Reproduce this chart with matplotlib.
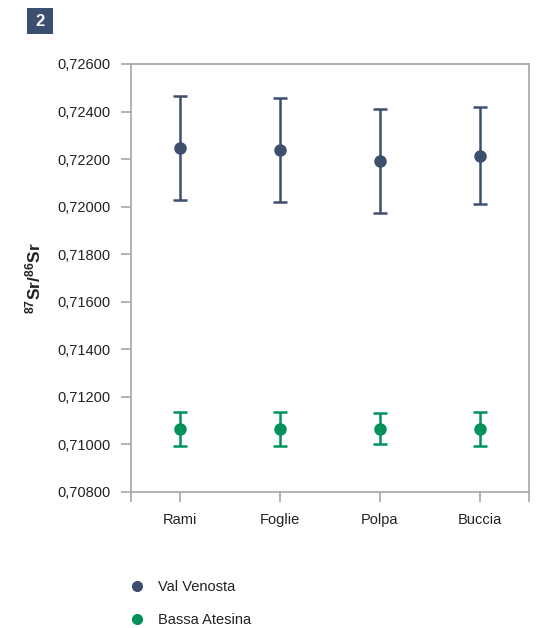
import matplotlib.pyplot as plt
from matplotlib.lines import Line2D
from matplotlib.patches import Rectangle
from matplotlib.ticker import FuncFormatter

# dati
categorie = ["Rami", "Foglie", "Polpa", "Buccia"]
serie = ["Val Venosta", "Bassa Atesina"]

val_venosta      = [0.72248, 0.72238, 0.72192, 0.72214]
val_venosta_alto = [0.72467, 0.72456, 0.72411, 0.72421]
val_venosta_bas  = [0.72028, 0.72021, 0.71972, 0.72011]

bassa_atesina      = [0.71066, 0.71066, 0.71066, 0.71066]
bassa_atesina_alto = [0.71138, 0.71138, 0.71132, 0.71138]
bassa_atesina_bas  = [0.70995, 0.70995, 0.71001, 0.70995]

COLORE_VV = "#3d4f6e"
COLORE_BA = "#00925a"
GRIGIO    = "#a6a6a6"

plt.rcParams["font.family"] = ["Liberation Sans", "DejaVu Sans"]
plt.rcParams["mathtext.fontset"] = "custom"
plt.rcParams["mathtext.rm"] = "Liberation Sans"
plt.rcParams["mathtext.bf"] = "Liberation Sans:bold"

fig = plt.figure(figsize=(5.47, 6.28), dpi=100)
ax = fig.add_axes([0.2395, 0.2166, 0.7275, 0.6815])

x = list(range(len(categorie)))

def errori(media, alto, basso):
    return [[m - b for m, b in zip(media, basso)], [a - m for m, a in zip(media, alto)]]

ax.errorbar(x, val_venosta, yerr=errori(val_venosta, val_venosta_alto, val_venosta_bas),
            fmt="o", color=COLORE_VV, ms=8, elinewidth=1.8, capsize=5, capthick=1.8,
            zorder=3)
ax.errorbar(x, bassa_atesina, yerr=errori(bassa_atesina, bassa_atesina_alto, bassa_atesina_bas),
            fmt="o", color=COLORE_BA, ms=8, elinewidth=1.8, capsize=5, capthick=1.8,
            zorder=3)

ax.set_xlim(-0.49, 3.49)
ax.set_ylim(0.708, 0.726)
ax.set_yticks([0.708 + 0.002 * i for i in range(10)])
ax.yaxis.set_major_formatter(FuncFormatter(lambda v, p: f"{v:.5f}".replace(".", ",")))
ax.set_xticks([-0.49] + x + [3.49])
ax.set_xticklabels([""] + categorie + [""])

for lato in ax.spines.values():
    lato.set_color(GRIGIO)
    lato.set_linewidth(1.2)
ax.tick_params(axis="both", colors=GRIGIO, labelcolor="#222222", labelsize=10.5,
               length=7, width=1.2)
ax.tick_params(axis="x", pad=8)
ax.tick_params(axis="y", pad=8)

ax.set_ylabel(r"$\mathbf{^{87}Sr/^{86}Sr}$", fontsize=12.5, color="#222222")
ax.yaxis.set_label_coords(-0.22, 0.5)

# riquadro numerato
fig.patches.append(Rectangle((27 / 547, 1 - 34 / 628), 26 / 547, 26 / 628,
                             transform=fig.transFigure, facecolor=COLORE_VV,
                             edgecolor="none"))
fig.text(40 / 547, 1 - 21 / 628, "2", ha="center", va="center", color="white",
         fontsize=12, fontweight="bold")

maniglie = [Line2D([], [], marker="o", linestyle="none", color=c, ms=7)
            for c in (COLORE_VV, COLORE_BA)]
fig.legend(maniglie, serie, loc="upper left", bbox_to_anchor=(124 / 547, 1 - 574 / 628),
           frameon=False, handlelength=1.0, handletextpad=0.92, labelspacing=1.3,
           borderpad=0.4, borderaxespad=0, fontsize=10.5, labelcolor="#222222")

fig.savefig("out.png", dpi=100)
